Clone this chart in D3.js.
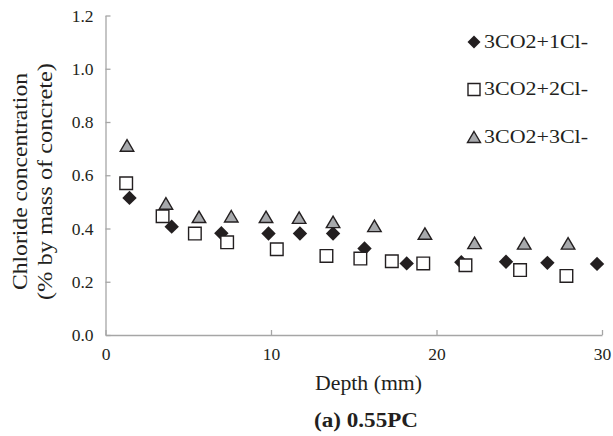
<!DOCTYPE html>
<html><head><meta charset="utf-8">
<script src="https://cdn.jsdelivr.net/npm/d3@7/dist/d3.min.js"></script>
<style>
html,body{margin:0;padding:0;background:#fff;}
svg{display:block;}
svg text{font-family:"Liberation Serif","Times New Roman",serif;}
</style></head>
<body>
<svg id="chart" width="613" height="436"></svg>
<script>
const seriesNames = ["3CO2+1Cl-", "3CO2+2Cl-", "3CO2+3Cl-"];
const depth1 = [1.45, 4.0, 7.0, 9.85, 11.75, 13.75, 15.65, 18.2, 21.5, 24.2, 26.7, 29.7];
const conc1  = [0.515, 0.407, 0.382, 0.381, 0.381, 0.381, 0.325, 0.269, 0.273, 0.275, 0.271, 0.267];
const depth2 = [1.25, 3.45, 5.4, 7.35, 10.35, 13.35, 15.4, 17.3, 19.2, 21.75, 25.05, 27.85];
const conc2  = [0.570, 0.446, 0.381, 0.348, 0.322, 0.297, 0.287, 0.277, 0.269, 0.262, 0.244, 0.222];
const depth3 = [1.3, 3.65, 5.65, 7.6, 9.7, 11.7, 13.75, 16.25, 19.3, 22.3, 25.3, 27.95];
const conc3  = [0.712, 0.494, 0.444, 0.446, 0.444, 0.441, 0.425, 0.41, 0.381, 0.346, 0.344, 0.344];
const xTicks = [0, 10, 20, 30];
const yTicks = [0, 0.2, 0.4, 0.6, 0.8, 1.0, 1.2];
const xTitle = "Depth (mm)";
const yTitle1 = "Chloride concentration";
const yTitle2 = "(% by mass of concrete)";
const caption = "(a) 0.55PC";

const svg = d3.select("#chart");
const plotL = 105.5, plotR = 602, plotT = 15.5, plotB = 335;
const x = d3.scaleLinear().domain([0, 30]).range([plotL, plotR]);
const y = d3.scaleLinear().domain([0, 1.2]).range([plotB, plotT]);
const axisColor = "#a6a6a6";
const ink = "#231f20";
const serif = "'Liberation Serif', 'Times New Roman', serif";

// axes
const xAxis = svg.append("g").attr("transform", `translate(0,${plotB})`)
  .call(d3.axisBottom(x).tickValues(xTicks).tickSizeInner(-5).tickSizeOuter(0).tickPadding(13).tickFormat(d3.format("d")));
const yAxis = svg.append("g").attr("transform", `translate(${plotL},0)`)
  .call(d3.axisLeft(y).tickValues(yTicks).tickSizeInner(-5).tickSizeOuter(0).tickPadding(12).tickFormat(d3.format(".1f")));
[xAxis, yAxis].forEach(g => {
  g.attr("font-family", serif).attr("font-size", 17.5);
  g.select(".domain").attr("stroke", axisColor).attr("stroke-width", 1.3);
  g.selectAll(".tick line").attr("stroke", axisColor).attr("stroke-width", 1.3);
  g.selectAll(".tick text").attr("fill", ink).style("font-family", serif).style("font-size", "17.5px");
});
xAxis.selectAll(".tick text").attr("dy", "0.71em");

// marker shapes
function diamondPath(s){ return `M0,${-s}L${s},0L0,${s}L${-s},0Z`; }
function squarePath(s){ return `M${-s},${-s}H${s}V${s}H${-s}Z`; }
function trianglePath(w,h){ return `M0,${-h/2}L${w/2},${h/2}L${-w/2},${h/2}Z`; }

const styles = [
  {path: diamondPath(7.2), fill: ink, stroke: "none", sw: 0},
  {path: squarePath(6.3), fill: "#fff", stroke: ink, sw: 1.4},
  {path: trianglePath(13.5, 11.5), fill: "#a7a9ac", stroke: ink, sw: 1.4}
];
const seriesData = [
  depth1.map((d,i)=>({x:d, y:conc1[i]})),
  depth2.map((d,i)=>({x:d, y:conc2[i]})),
  depth3.map((d,i)=>({x:d, y:conc3[i]}))
];
seriesData.forEach((data, k) => {
  svg.append("g").selectAll("path").data(data).join("path")
    .attr("d", styles[k].path)
    .attr("transform", d => `translate(${x(d.x)},${y(d.y)})`)
    .attr("fill", styles[k].fill)
    .attr("stroke", styles[k].stroke)
    .attr("stroke-width", styles[k].sw);
});

function label(sel, size, len){
  return sel.style("font-family", serif).style("font-size", size + "px")
    .attr("fill", ink).attr("textLength", len).attr("lengthAdjust", "spacingAndGlyphs");
}

// legend
const legY = [42, 89.5, 137];
seriesNames.forEach((name, k) => {
  const g = svg.append("g").attr("transform", `translate(474,${legY[k]})`);
  g.append("path").attr("d", k===0 ? diamondPath(6.5) : k===1 ? squarePath(6) : trianglePath(13,11))
    .attr("fill", styles[k].fill).attr("stroke", styles[k].stroke).attr("stroke-width", styles[k].sw);
  label(g.append("text").attr("x", 10).attr("y", 5.5), 19.5, 104).text(name);
});

// titles
label(svg.append("text").attr("x", 315).attr("y", 390), 20, 107).text(xTitle);
label(svg.append("text").attr("transform", "translate(27,290) rotate(-90)"), 20, 217).text(yTitle1);
label(svg.append("text").attr("transform", "translate(52,300) rotate(-90)"), 20, 237).text(yTitle2);
label(svg.append("text").attr("x", 314).attr("y", 427), 20, 104).attr("font-weight", "bold").text(caption);
</script>
</body></html>
